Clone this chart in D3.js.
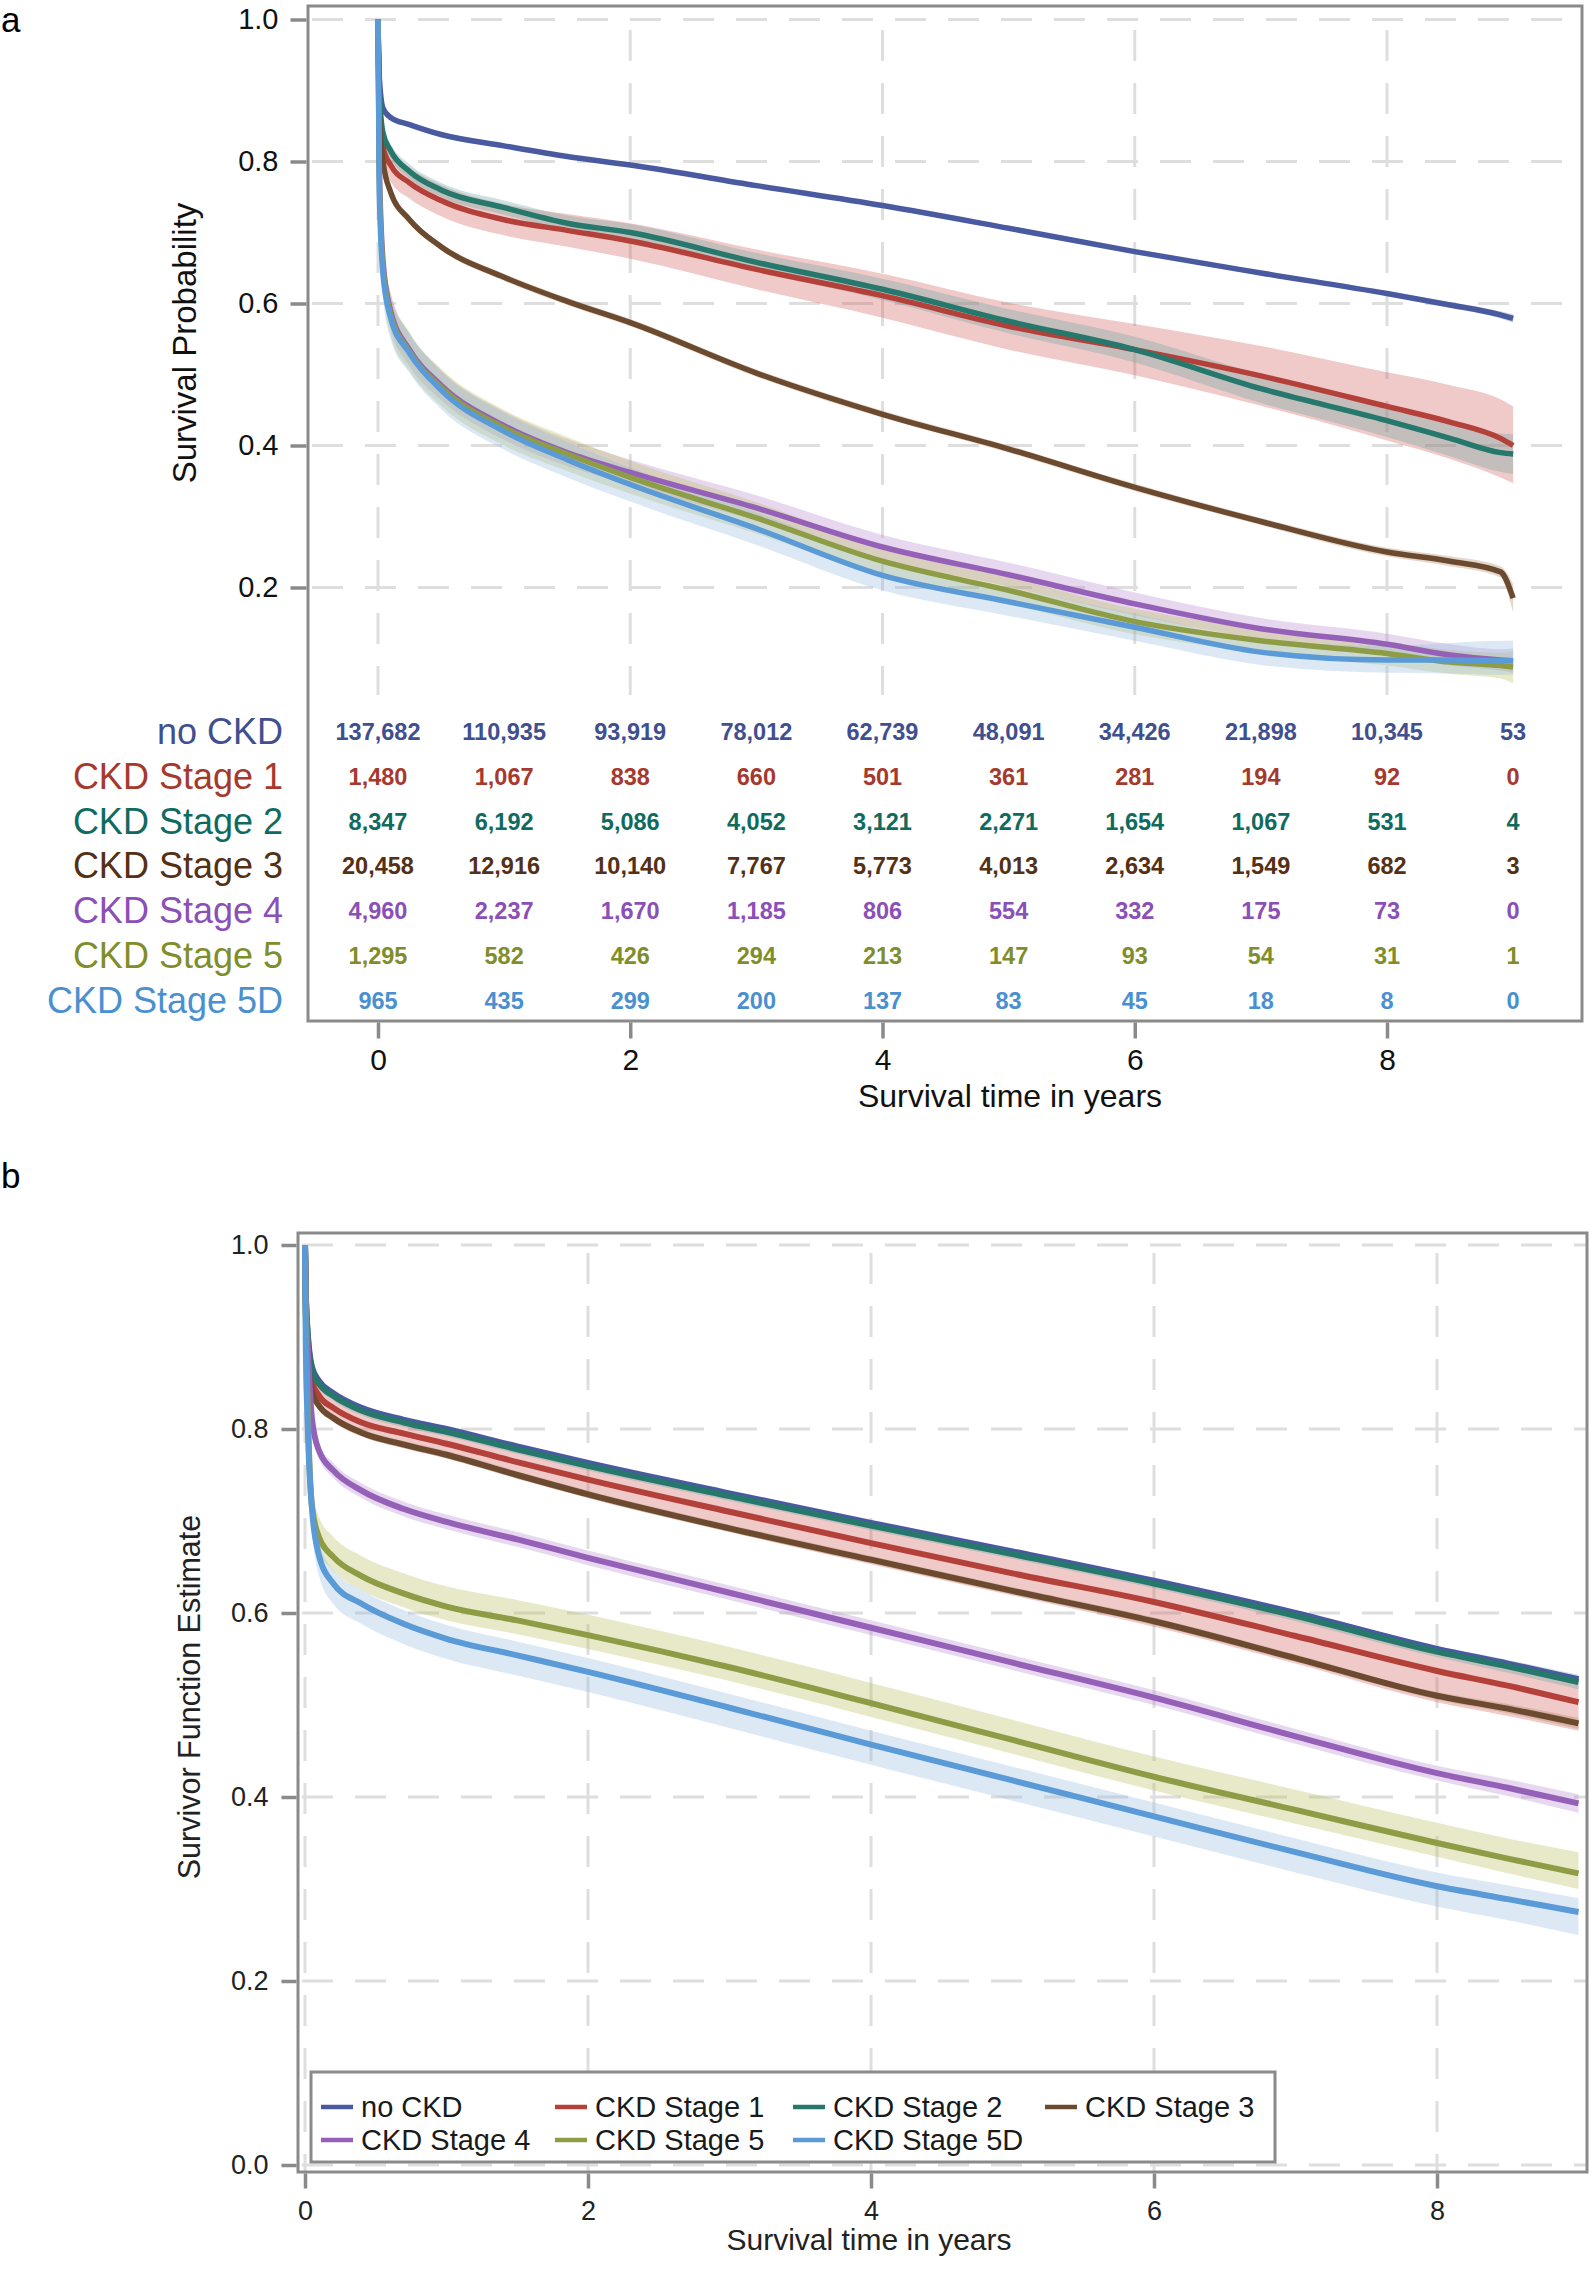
<!DOCTYPE html>
<html><head><meta charset="utf-8">
<script src="https://cdn.jsdelivr.net/npm/d3@7"></script>
<style>body{margin:0;background:#fff}</style>
</head><body>
<svg id="chart" width="1594" height="2270" xmlns="http://www.w3.org/2000/svg"></svg>
<script>
// ---------------- DATA ----------------
const groups = ["no CKD","CKD Stage 1","CKD Stage 2","CKD Stage 3","CKD Stage 4","CKD Stage 5","CKD Stage 5D"];
const lineColors = ["#4a5aa0","#b4403a","#26776c","#6b4a2f","#9561b8","#8e9d45","#5a9ad6"];
const bandColors = ["#6F7EB3","#D05B5B","#66A5A0","#A9865B","#B689CD","#BABC5C","#94BDE1"];
const textColors = ["#3f4f8f","#a5392e","#0f6b60","#543015","#8b4fb8","#7f8e2a","#4a90d0"];

// Panel a: Kaplan-Meier estimates
const timesA = [0, 0.01, 0.04, 0.1, 0.25, 0.5, 1, 1.5, 2, 3, 4, 5, 6, 7, 8, 8.5, 8.9, 9];
const kmNoCKD    = [1.0,0.92,0.875,0.862,0.852,0.838,0.822,0.807,0.795,0.766,0.738,0.706,0.673,0.643,0.614,0.598,0.584,0.579];
const kmNoCKDLo  = [1.0,0.917,0.872,0.859,0.849,0.835,0.819,0.804,0.792,0.763,0.735,0.703,0.670,0.640,0.611,0.594,0.579,0.573];
const kmNoCKDHi  = [1.0,0.923,0.878,0.865,0.855,0.841,0.825,0.810,0.798,0.769,0.741,0.709,0.676,0.646,0.617,0.602,0.589,0.585];
const kmStage1   = [1.0,0.88,0.82,0.795,0.77,0.745,0.718,0.703,0.688,0.648,0.611,0.568,0.535,0.498,0.455,0.433,0.41,0.40];
const kmStage1Lo = [1.0,0.85,0.795,0.772,0.748,0.723,0.696,0.680,0.663,0.620,0.580,0.535,0.499,0.456,0.407,0.381,0.355,0.347];
const kmStage1Hi = [1.0,0.91,0.845,0.818,0.792,0.767,0.740,0.726,0.713,0.676,0.642,0.601,0.571,0.540,0.503,0.485,0.465,0.455];
const kmStage2   = [1.0,0.90,0.84,0.815,0.786,0.76,0.735,0.713,0.70,0.658,0.62,0.575,0.535,0.48,0.435,0.41,0.39,0.388];
const kmStage2Lo = [1.0,0.89,0.83,0.805,0.776,0.750,0.725,0.702,0.688,0.645,0.605,0.558,0.517,0.460,0.412,0.385,0.363,0.360];
const kmStage2Hi = [1.0,0.91,0.85,0.825,0.796,0.770,0.745,0.724,0.712,0.671,0.635,0.592,0.553,0.500,0.458,0.435,0.417,0.416];
const kmStage3   = [1.0,0.87,0.80,0.757,0.718,0.68,0.637,0.603,0.573,0.502,0.444,0.395,0.341,0.293,0.25,0.237,0.222,0.185];
const kmStage3Lo = [1.0,0.865,0.795,0.752,0.713,0.675,0.632,0.598,0.568,0.497,0.439,0.390,0.336,0.288,0.244,0.230,0.214,0.165];
const kmStage3Hi = [1.0,0.875,0.805,0.762,0.723,0.685,0.642,0.608,0.578,0.507,0.449,0.400,0.346,0.298,0.256,0.244,0.230,0.205];
const kmStage4   = [1.0,0.80,0.66,0.59,0.535,0.485,0.428,0.39,0.362,0.312,0.257,0.218,0.177,0.142,0.12,0.105,0.098,0.097];
const kmStage4Lo = [1.0,0.78,0.635,0.565,0.512,0.464,0.408,0.371,0.344,0.294,0.240,0.201,0.161,0.127,0.105,0.090,0.083,0.080];
const kmStage4Hi = [1.0,0.82,0.685,0.615,0.558,0.506,0.448,0.409,0.380,0.330,0.274,0.235,0.193,0.157,0.135,0.120,0.113,0.114];
const kmStage5   = [1.0,0.78,0.65,0.585,0.532,0.482,0.425,0.388,0.355,0.298,0.237,0.196,0.152,0.125,0.107,0.095,0.09,0.088];
const kmStage5Lo = [1.0,0.75,0.62,0.555,0.505,0.456,0.400,0.364,0.332,0.276,0.217,0.177,0.134,0.108,0.090,0.078,0.072,0.065];
const kmStage5Hi = [1.0,0.81,0.68,0.615,0.559,0.508,0.450,0.412,0.378,0.320,0.257,0.215,0.170,0.142,0.124,0.112,0.108,0.110];
const kmStage5D  = [1.0,0.76,0.64,0.58,0.53,0.478,0.42,0.38,0.345,0.283,0.217,0.18,0.144,0.109,0.098,0.098,0.097,0.097];
const kmStage5DLo= [1.0,0.73,0.61,0.55,0.502,0.451,0.394,0.355,0.321,0.260,0.196,0.160,0.125,0.091,0.080,0.079,0.077,0.077];
const kmStage5DHi= [1.0,0.79,0.67,0.61,0.558,0.505,0.446,0.405,0.369,0.306,0.238,0.200,0.163,0.127,0.118,0.122,0.125,0.125];

// Numbers at risk (years 0..9)
const riskTimes = [0,1,2,3,4,5,6,7,8,9];
const riskNoCKD  = ["137,682","110,935","93,919","78,012","62,739","48,091","34,426","21,898","10,345","53"];
const riskStage1 = ["1,480","1,067","838","660","501","361","281","194","92","0"];
const riskStage2 = ["8,347","6,192","5,086","4,052","3,121","2,271","1,654","1,067","531","4"];
const riskStage3 = ["20,458","12,916","10,140","7,767","5,773","4,013","2,634","1,549","682","3"];
const riskStage4 = ["4,960","2,237","1,670","1,185","806","554","332","175","73","0"];
const riskStage5 = ["1,295","582","426","294","213","147","93","54","31","1"];
const riskStage5D= ["965","435","299","200","137","83","45","18","8","0"];

// Panel b: survivor function estimates (adjusted)
const timesB = [0, 0.005, 0.02, 0.05, 0.1, 0.2, 0.4, 0.7, 1, 1.5, 2, 3, 4, 5, 6, 7, 8, 8.5, 9];
const sfNoCKD    = [1.0,0.953,0.903,0.867,0.852,0.839,0.823,0.810,0.800,0.781,0.763,0.730,0.698,0.667,0.635,0.600,0.561,0.545,0.528];
const sfNoCKDLo  = [1.0,0.951,0.901,0.865,0.850,0.837,0.821,0.808,0.798,0.779,0.761,0.728,0.696,0.665,0.633,0.598,0.559,0.543,0.526];
const sfNoCKDHi  = [1.0,0.955,0.905,0.869,0.854,0.841,0.825,0.812,0.802,0.783,0.765,0.732,0.700,0.669,0.637,0.602,0.563,0.547,0.530];
const sfStage1   = [1.0,0.94,0.89,0.852,0.836,0.823,0.807,0.795,0.784,0.764,0.745,0.71,0.676,0.643,0.612,0.575,0.537,0.521,0.503];
const sfStage1Lo = [1.0,0.925,0.875,0.836,0.821,0.808,0.792,0.779,0.768,0.746,0.725,0.688,0.653,0.619,0.585,0.545,0.503,0.488,0.472];
const sfStage1Hi = [1.0,0.955,0.905,0.868,0.852,0.839,0.823,0.811,0.800,0.781,0.763,0.73,0.698,0.667,0.636,0.601,0.563,0.548,0.531];
const sfStage2   = [1.0,0.95,0.90,0.864,0.849,0.836,0.82,0.807,0.797,0.778,0.76,0.727,0.695,0.664,0.632,0.597,0.558,0.542,0.525];
const sfStage2Lo = [1.0,0.945,0.895,0.859,0.844,0.831,0.815,0.802,0.792,0.773,0.755,0.722,0.69,0.659,0.627,0.591,0.552,0.535,0.517];
const sfStage2Hi = [1.0,0.955,0.905,0.869,0.854,0.841,0.825,0.812,0.802,0.783,0.765,0.732,0.70,0.669,0.637,0.603,0.564,0.549,0.533];
const sfStage3   = [1.0,0.93,0.88,0.84,0.825,0.812,0.796,0.783,0.772,0.75,0.729,0.692,0.658,0.624,0.591,0.551,0.51,0.496,0.48];
const sfStage3Lo = [1.0,0.926,0.876,0.836,0.821,0.808,0.792,0.779,0.768,0.746,0.725,0.688,0.654,0.62,0.587,0.547,0.506,0.491,0.474];
const sfStage3Hi = [1.0,0.934,0.884,0.844,0.829,0.816,0.80,0.787,0.776,0.754,0.733,0.696,0.662,0.628,0.595,0.555,0.514,0.501,0.486];
const sfStage4   = [1.0,0.95,0.89,0.81,0.776,0.755,0.733,0.713,0.699,0.68,0.66,0.622,0.584,0.546,0.508,0.466,0.426,0.41,0.393];
const sfStage4Lo = [1.0,0.942,0.882,0.802,0.768,0.747,0.725,0.705,0.691,0.672,0.652,0.614,0.576,0.538,0.50,0.458,0.418,0.401,0.383];
const sfStage4Hi = [1.0,0.958,0.898,0.818,0.784,0.763,0.741,0.721,0.707,0.688,0.668,0.63,0.592,0.554,0.516,0.474,0.434,0.419,0.403];
const sfStage5   = [1.0,0.93,0.82,0.715,0.682,0.661,0.64,0.621,0.607,0.592,0.576,0.541,0.502,0.462,0.422,0.386,0.35,0.333,0.317];
const sfStage5Lo = [1.0,0.915,0.805,0.700,0.667,0.646,0.625,0.606,0.592,0.577,0.561,0.526,0.487,0.447,0.407,0.371,0.335,0.317,0.30];
const sfStage5Hi = [1.0,0.952,0.842,0.737,0.704,0.683,0.662,0.643,0.629,0.614,0.598,0.563,0.524,0.484,0.444,0.408,0.372,0.355,0.34];
const sfStage5D  = [1.0,0.90,0.80,0.712,0.662,0.632,0.61,0.588,0.572,0.554,0.536,0.497,0.457,0.418,0.379,0.34,0.303,0.289,0.275];
const sfStage5DLo= [1.0,0.878,0.778,0.69,0.64,0.61,0.588,0.566,0.55,0.532,0.514,0.475,0.435,0.396,0.357,0.318,0.281,0.266,0.25];
const sfStage5DHi= [1.0,0.915,0.815,0.727,0.677,0.647,0.625,0.603,0.587,0.569,0.551,0.512,0.472,0.433,0.394,0.355,0.318,0.304,0.29];

const yTicksA = [0.2,0.4,0.6,0.8,1.0];
const xTicks = [0,2,4,6,8];
const yTicksB = [0.0,0.2,0.4,0.6,0.8,1.0];

// ---------------- DRAW ----------------
const FONT = '"Liberation Sans", Arial, Helvetica, sans-serif';
const svg = d3.select("#chart").style("font-family", FONT);
const defs = svg.append("defs");
const GRID = "#dedede", FRAME = "#8a8a8a";

const seriesA = [
  [kmNoCKD,kmNoCKDLo,kmNoCKDHi],[kmStage1,kmStage1Lo,kmStage1Hi],[kmStage2,kmStage2Lo,kmStage2Hi],
  [kmStage3,kmStage3Lo,kmStage3Hi],[kmStage4,kmStage4Lo,kmStage4Hi],[kmStage5,kmStage5Lo,kmStage5Hi],
  [kmStage5D,kmStage5DLo,kmStage5DHi]];
const seriesB = [
  [sfNoCKD,sfNoCKDLo,sfNoCKDHi],[sfStage1,sfStage1Lo,sfStage1Hi],[sfStage2,sfStage2Lo,sfStage2Hi],
  [sfStage3,sfStage3Lo,sfStage3Hi],[sfStage4,sfStage4Lo,sfStage4Hi],[sfStage5,sfStage5Lo,sfStage5Hi],
  [sfStage5D,sfStage5DLo,sfStage5DHi]];
const risk = [riskNoCKD,riskStage1,riskStage2,riskStage3,riskStage4,riskStage5,riskStage5D];

function drawCurves(g, times, series, x, y, clipId, lw) {
  const area = d3.area().x((d,i)=>x(times[i])).y0(d=>y(d[0])).y1(d=>y(d[1])).curve(d3.curveMonotoneX);
  const line = d3.line().x((d,i)=>x(times[i])).y(d=>y(d)).curve(d3.curveMonotoneX);
  const cg = g.append("g").attr("clip-path", `url(#${clipId})`);
  series.forEach((s,k)=>{
    const pts = s[1].map((lo,i)=>[lo, s[2][i]]);
    cg.append("path").attr("d", area(pts)).attr("fill", bandColors[k]).attr("fill-opacity", 0.33);
  });
  series.forEach((s,k)=>{
    cg.append("path").attr("d", line(s[0])).attr("fill","none").attr("stroke", lineColors[k])
      .attr("stroke-width", lw).attr("stroke-linejoin","round");
  });
}

// ===== Panel a =====
const fa = {x0:308, x1:1582, y0:6, y1:1021};
const xA = d3.scaleLinear().domain([0,8]).range([378,1387]);
const yA = d3.scaleLinear().domain([0.2,1.0]).range([587.5,19.5]);
defs.append("clipPath").attr("id","clipA").append("rect")
  .attr("x",fa.x0).attr("y",fa.y0).attr("width",fa.x1-fa.x0).attr("height",fa.y1-fa.y0);
const gA = svg.append("g");
gA.selectAll(".hg").data(yTicksA).join("line").attr("class","hg")
  .attr("x1",fa.x0+4).attr("x2",fa.x1).attr("y1",d=>yA(d)).attr("y2",d=>yA(d))
  .attr("stroke",GRID).attr("stroke-width",3).attr("stroke-dasharray","31,22");
gA.selectAll(".vg").data(xTicks).join("line").attr("class","vg")
  .attr("x1",d=>xA(d)).attr("x2",d=>xA(d)).attr("y1",fa.y0+24).attr("y2",695)
  .attr("stroke",GRID).attr("stroke-width",3).attr("stroke-dasharray","31,22");
drawCurves(gA, timesA, seriesA, xA, yA, "clipA", 5.5);

// risk table
const rowY = i => 731.5 + i*44.75;
groups.forEach((name,i)=>{
  svg.append("text").attr("x",283).attr("y",rowY(i)+12.5).attr("text-anchor","end")
    .attr("font-size",36).attr("fill",textColors[i]).text(name);
  svg.append("g").selectAll("text").data(risk[i]).join("text")
    .attr("x",(d,j)=>xA(riskTimes[j])).attr("y",rowY(i)+8.5).attr("text-anchor","middle")
    .attr("font-size",23.5).attr("font-weight","bold").attr("fill",textColors[i]).text(d=>d);
});

svg.append("rect").attr("x",fa.x0).attr("y",fa.y0).attr("width",fa.x1-fa.x0).attr("height",fa.y1-fa.y0)
  .attr("fill","none").attr("stroke",FRAME).attr("stroke-width",3);

const gyA = svg.append("g").attr("transform",`translate(${fa.x0-1.5},0)`)
  .call(d3.axisLeft(yA).tickValues(yTicksA).tickFormat(d3.format(".1f")).tickSize(16).tickPadding(12));
const gxA = svg.append("g").attr("transform",`translate(0,${fa.y1+1.5})`)
  .call(d3.axisBottom(xA).tickValues(xTicks).tickFormat(d3.format("d")).tickSize(16).tickPadding(10));
[gyA,gxA].forEach(g=>{
  g.select(".domain").remove();
  g.selectAll("line").attr("stroke",FRAME).attr("stroke-width",3.5);
  g.selectAll("text").attr("font-family",FONT).attr("fill","#111");
});
gyA.selectAll("text").attr("font-size",29);
gxA.selectAll("text").attr("font-size",30);

svg.append("text").attr("transform","translate(196,343) rotate(-90)").attr("text-anchor","middle")
  .attr("font-size",33).attr("fill","#111").text("Survival Probability");
svg.append("text").attr("x",1010).attr("y",1107).attr("text-anchor","middle")
  .attr("font-size",32).attr("fill","#111").text("Survival time in years");
svg.append("text").attr("x",1).attr("y",32).attr("font-size",35).attr("fill","#000").text("a");

// ===== Panel b =====
const fb = {x0:298, x1:1587, y0:1233, y1:2172};
const xB = d3.scaleLinear().domain([0,8]).range([305,1437]);
const yB = d3.scaleLinear().domain([0,1]).range([2165,1245]);
defs.append("clipPath").attr("id","clipB").append("rect")
  .attr("x",fb.x0).attr("y",fb.y0).attr("width",fb.x1-fb.x0).attr("height",fb.y1-fb.y0);
const gB = svg.append("g");
gB.selectAll(".hg").data(yTicksB).join("line").attr("class","hg")
  .attr("x1",fb.x0+4).attr("x2",fb.x1).attr("y1",d=>yB(d)).attr("y2",d=>yB(d))
  .attr("stroke",GRID).attr("stroke-width",3).attr("stroke-dasharray","31,22");
gB.selectAll(".vg").data(xTicks).join("line").attr("class","vg")
  .attr("x1",d=>xB(d)).attr("x2",d=>xB(d)).attr("y1",fb.y0+20).attr("y2",fb.y1)
  .attr("stroke",GRID).attr("stroke-width",3).attr("stroke-dasharray","31,22");
drawCurves(gB, timesB, seriesB, xB, yB, "clipB", 6);

// legend
const leg = svg.append("g");
leg.append("rect").attr("x",311).attr("y",2072).attr("width",964).attr("height",90)
  .attr("fill","#fff").attr("stroke",FRAME).attr("stroke-width",3);
const legPos = [[321,2107],[555,2107],[793,2107],[1045,2107],[321,2140],[555,2140],[793,2140]];
groups.forEach((name,i)=>{
  const [lx,ly] = legPos[i];
  leg.append("line").attr("x1",lx).attr("x2",lx+32).attr("y1",ly).attr("y2",ly)
    .attr("stroke",lineColors[i]).attr("stroke-width",4.5);
  leg.append("text").attr("x",lx+40).attr("y",ly+10).attr("font-size",29).attr("fill","#1a1a1a").text(name);
});

svg.append("rect").attr("x",fb.x0).attr("y",fb.y0).attr("width",fb.x1-fb.x0).attr("height",fb.y1-fb.y0)
  .attr("fill","none").attr("stroke",FRAME).attr("stroke-width",3);

const gyB = svg.append("g").attr("transform",`translate(${fb.x0-1.5},0)`)
  .call(d3.axisLeft(yB).tickValues(yTicksB).tickFormat(d3.format(".1f")).tickSize(15).tickPadding(13));
const gxB = svg.append("g").attr("transform",`translate(0,${fb.y1+1.5})`)
  .call(d3.axisBottom(xB).tickValues(xTicks).tickFormat(d3.format("d")).tickSize(15).tickPadding(12));
[gyB,gxB].forEach(g=>{
  g.select(".domain").remove();
  g.selectAll("line").attr("stroke",FRAME).attr("stroke-width",3.5);
  g.selectAll("text").attr("font-family",FONT).attr("fill","#222").attr("font-size",27);
});

svg.append("text").attr("transform","translate(200,1697) rotate(-90)").attr("text-anchor","middle")
  .attr("font-size",30.5).attr("fill","#222").text("Survivor Function Estimate");
svg.append("text").attr("x",869).attr("y",2250).attr("text-anchor","middle")
  .attr("font-size",30).attr("fill","#222").text("Survival time in years");
svg.append("text").attr("x",1).attr("y",1188).attr("font-size",35).attr("fill","#000").text("b");
</script>
</body></html>
